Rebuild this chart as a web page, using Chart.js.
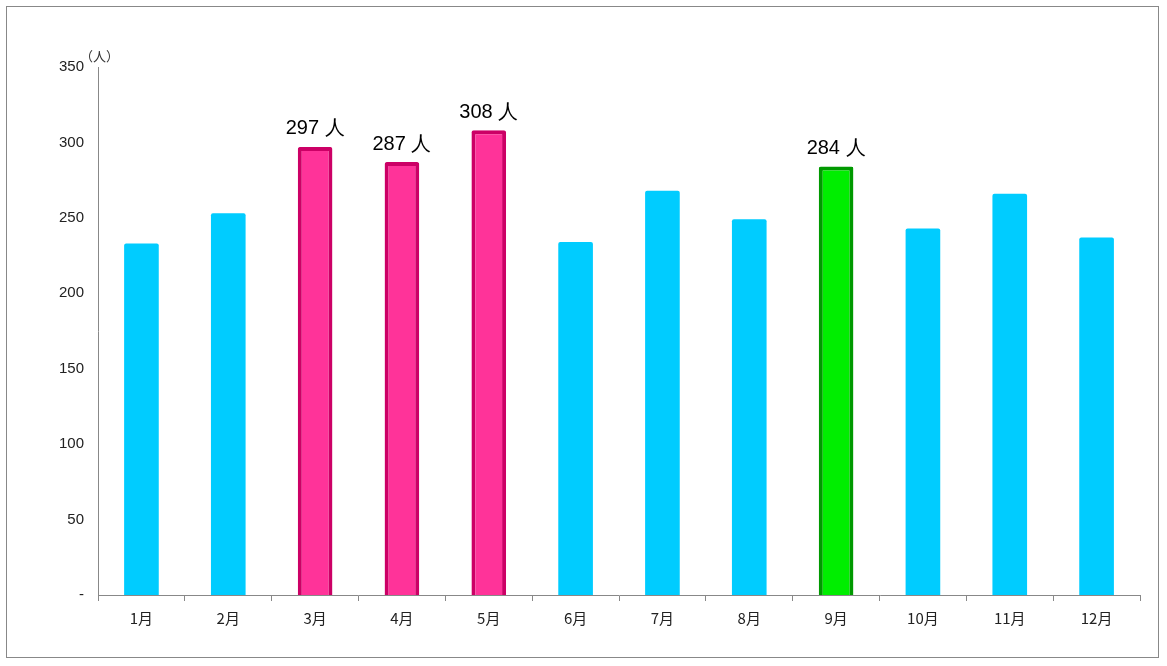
<!DOCTYPE html>
<html><head><meta charset="utf-8">
<script src="https://cdn.jsdelivr.net/npm/chart.js@4"></script>
<style>
body{margin:0;background:#fff;}
#wrap{position:absolute;left:6px;top:6px;width:1153px;height:652px;border:1px solid #888;box-sizing:border-box;}
canvas{display:block;}
</style></head><body>
<div id="wrap"><canvas id="c"></canvas></div>
<script>
// monthly counts
const months = ['1月','2月','3月','4月','5月','6月','7月','8月','9月','10月','11月','12月'];
const counts = [233, 253, 297, 287, 308, 234, 268, 249, 284, 243, 266, 237];
const pinkMonths = [2, 3, 4];
const greenMonths = [8];

const fills = counts.map((v, i) => pinkMonths.includes(i) ? '#FF3399' : greenMonths.includes(i) ? '#00EE00' : '#00CCFF');
const borders = counts.map((v, i) => pinkMonths.includes(i) ? '#CC0066' : greenMonths.includes(i) ? '#009900' : '#00CCFF');
const widths = counts.map((v, i) => (pinkMonths.includes(i) || greenMonths.includes(i)) ? 4 : 0);

const labelPlugin = {
    id: 'labels',
    afterDatasetsDraw(chart) {
        const ctx = chart.ctx;
        const meta = chart.getDatasetMeta(0);
        ctx.save();
        ctx.font = '20px "Liberation Sans", Arial, sans-serif';
        ctx.fillStyle = '#000';
        ctx.textAlign = 'center';
        ctx.textBaseline = 'bottom';
        [...pinkMonths, ...greenMonths].forEach(i => {
            const el = meta.data[i];
            ctx.fillText(counts[i] + ' 人', el.x, el.y - 8);
        });
        ctx.font = '13px "Noto Sans CJK JP", sans-serif';
        ctx.fillStyle = '#333';
        ctx.textAlign = 'left';
        ctx.fillText('（人）', chart.scales.y.right - 18, chart.scales.y.top - 4);
        ctx.restore();
    }
};

new Chart(document.getElementById('c'), {
    type: 'bar',
    data: {
        labels: months,
        datasets: [{
            data: counts,
            backgroundColor: fills,
            borderColor: borders,
            borderWidth: widths,
            borderRadius: 2,
            barPercentage: 0.42,
            categoryPercentage: 0.95
        }]
    },
    options: {
        responsive: true,
        maintainAspectRatio: false,
        animation: false,
        layout: { padding: { left: 44, right: 18, top: 60, bottom: 22 } },
        plugins: { legend: { display: false }, tooltip: { enabled: false } },
        scales: {
            y: {
                min: 0, max: 350,
                ticks: {
                    stepSize: 50, color: '#222',
                    font: { size: 15, family: '"Liberation Sans", Arial' },
                    callback: v => v === 0 ? '-' : v,
                    padding: 8
                },
                grid: { display: false, drawTicks: true, tickLength: 6, tickColor: '#888' },
                border: { color: '#888' }
            },
            x: {
                ticks: { color: '#222', font: { size: 15, family: '"Noto Sans CJK JP", sans-serif' }, padding: 8 },
                grid: { display: true, drawOnChartArea: false, offset: true, tickLength: 6, tickColor: '#888' },
                border: { color: '#888' }
            }
        }
    },
    plugins: [labelPlugin]
});
</script>
</body></html>
